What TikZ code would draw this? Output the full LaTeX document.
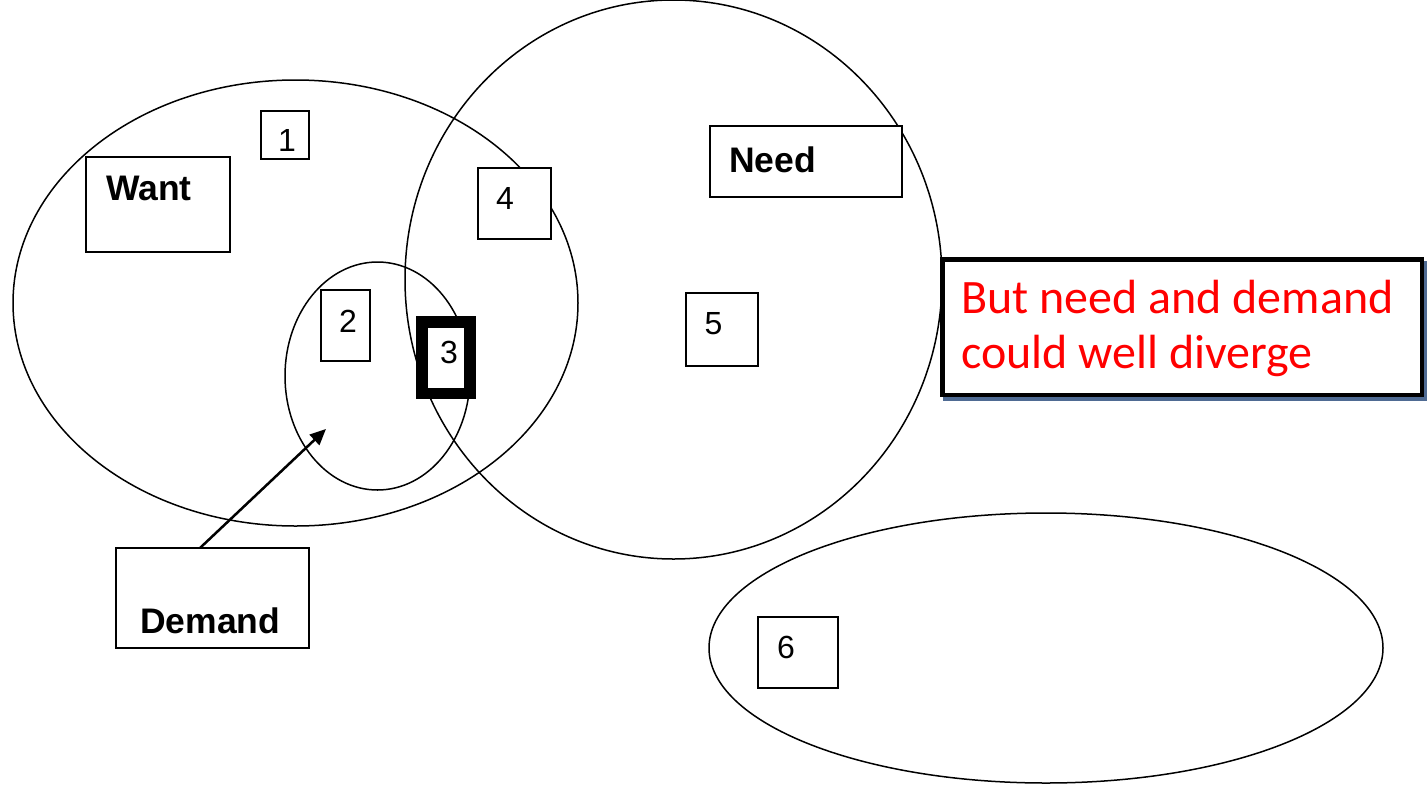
\documentclass[tikz,border=0pt]{standalone}
\usepackage{fontspec}
\newfontfamily\labfont{Liberation Sans}
\newfontfamily\calfont{Carlito}
\usetikzlibrary{shapes.geometric,arrows.meta}
\tikzset{
  ell/.style={draw, ellipse, line width=1.5pt, inner sep=0pt, outer sep=0pt},
  box/.style={draw, fill=white, rectangle, line width=1.5pt, inner sep=0pt, outer sep=0pt},
  num/.style={anchor=base, inner sep=0pt, font=\labfont\fontsize{32}{38}\selectfont},
  lab/.style={anchor=base west, inner sep=0pt, font=\labfont\bfseries\fontsize{35.5}{42}\selectfont},
  red/.style={anchor=base west, inner sep=0pt, text=red, font=\calfont\fontsize{48}{56}\selectfont},
  arr/.style={line width=2.5pt, -{Triangle[length=16pt,width=14pt]}}
}
\definecolor{shadowblue}{HTML}{4F6B93}
\begin{document}
\begin{tikzpicture}[x=1pt,y=-1pt]
\useasboundingbox (0,0) rectangle (1428,785);
% ellipses
\node[ell, minimum width=565pt, minimum height=446pt] (wantE) at (295.5,303) {};
\node[ell, minimum width=537pt, minimum height=559pt] (needE) at (673.5,279.5) {};
\node[ell, minimum width=185pt, minimum height=228pt] (demE) at (377.5,376) {};
\node[ell, minimum width=674pt, minimum height=270pt] (otherE) at (1046,648) {};
% boxes
\node[box, minimum width=48pt, minimum height=48pt] (b1) at (285,135) {};
\node[box, minimum width=144pt, minimum height=95pt] (want) at (158,204.5) {};
\node[box, minimum width=73pt, minimum height=71pt] (b4) at (514.5,203.5) {};
\node[box, minimum width=192pt, minimum height=71pt] (need) at (806,161.5) {};
\node[box, minimum width=49pt, minimum height=71pt] (b2) at (345.5,325.5) {};
\node[box, line width=11.5pt, minimum width=48pt, minimum height=71.5pt] (b3) at (446,357.5) {};
\node[box, minimum width=72pt, minimum height=73pt] (b5) at (722,329.5) {};
\node[box, minimum width=193pt, minimum height=100pt] (dem) at (212.5,598) {};
\node[box, minimum width=80pt, minimum height=71pt] (b6) at (798,652.5) {};
% text box with shadow
\fill[shadowblue] (943,261) rectangle (1427,401);
\node[box, line width=4.5pt, minimum width=479.5pt, minimum height=135.5pt] (note) at (1182,327) {};
% labels
\node[num] (t1) at (287,151) {1};
\node[num] (t2) at (348,332) {2};
\node[num] (t3) at (449,363) {3};
\node[num] (t4) at (505,209) {4};
\node[num] (t5) at (713.5,334) {5};
\node[num] (t6) at (786,658) {6};
\node[lab] (tw) at (106,200.5) {Want};
\node[lab] (tn) at (729,172) {Need};
\node[lab] (td) at (140,633) {Demand};
\node[red] (r1) at (961,313) {But need and demand};
\node[red] (r2) at (961,368) {could well diverge};
% arrow
\coordinate (tip) at (326,429);
\draw[arr] ([xshift=-12.5pt]dem.north) -- (tip);
\end{tikzpicture}
\end{document}
